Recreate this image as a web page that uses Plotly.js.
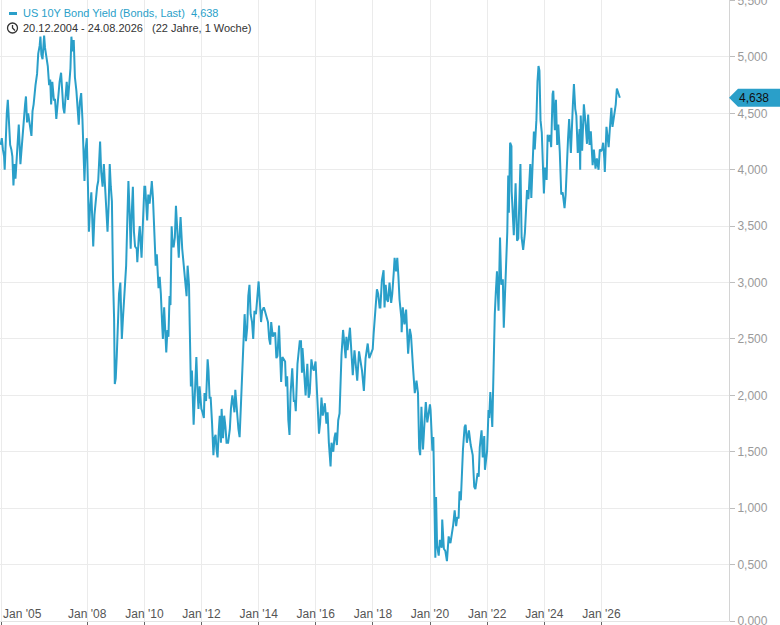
<!DOCTYPE html>
<html><head><meta charset="utf-8">
<script src="https://cdn.plot.ly/plotly-3.0.1.min.js"></script>
<style>html,body{margin:0;padding:0;background:#fff}#chart{width:780px;height:625px}</style>
</head><body><div id="chart"></div>
<script>
const seriesName = 'US 10Y Bond Yield (Bonds, Last)';
const periodText = '(22 Jahre, 1 Woche)';
const tickDates = ['2005-01-01','2008-01-01','2010-01-01','2012-01-01','2014-01-01','2016-01-01','2018-01-01','2020-01-01','2022-01-01','2024-01-01','2026-01-01'];
const tickLabels = ["Jan '05","Jan '08","Jan '10","Jan '12","Jan '14","Jan '16","Jan '18","Jan '20","Jan '22","Jan '24","Jan '26"];

const y2005 = [["2004-12-20",4.22],["2005-01-03",4.28],["2005-01-17",4.18],["2005-02-01",4.12],["2005-02-09",4.00],["2005-02-22",4.28],["2005-03-08",4.50],["2005-03-21",4.62],["2005-04-05",4.45],["2005-04-20",4.22],["2005-05-05",4.18],["2005-05-18",4.12],["2005-06-01",3.86],["2005-06-15",4.05],["2005-06-27",3.92],["2005-07-12",4.12],["2005-07-28",4.28],["2005-08-08",4.40],["2005-08-29",4.05],["2005-09-08",4.15],["2005-09-26",4.32],["2005-10-12",4.45],["2005-10-28",4.58],["2005-11-08",4.65],["2005-11-22",4.42],["2005-12-06",4.50],["2005-12-30",4.38]];
const y2006 = [["2006-01-17",4.30],["2006-01-31",4.52],["2006-02-14",4.58],["2006-03-10",4.75],["2006-03-30",4.85],["2006-04-14",5.03],["2006-05-02",5.10],["2006-05-12",5.18],["2006-05-24",5.02],["2006-06-08",4.98],["2006-06-28",5.19],["2006-07-10",5.08],["2006-07-27",5.00],["2006-08-14",4.92],["2006-08-31",4.75],["2006-09-14",4.80],["2006-09-26",4.58],["2006-10-11",4.78],["2006-10-31",4.62],["2006-11-15",4.62],["2006-12-01",4.45],["2006-12-14",4.58],["2006-12-29",4.70]];
const y2007 = [["2007-01-12",4.78],["2007-01-31",4.86],["2007-02-14",4.70],["2007-02-28",4.55],["2007-03-14",4.50],["2007-03-30",4.65],["2007-04-13",4.78],["2007-04-30",4.62],["2007-05-15",4.78],["2007-05-31",4.90],["2007-06-12",5.18],["2007-06-26",5.05],["2007-07-12",5.15],["2007-07-27",4.82],["2007-08-15",4.70],["2007-08-31",4.52],["2007-09-14",4.40],["2007-09-28",4.60],["2007-10-15",4.68],["2007-10-31",4.45],["2007-11-12",4.22],["2007-11-26",3.90],["2007-12-10",4.18],["2007-12-26",4.28]];
const y2008 = [["2008-01-10",3.85],["2008-01-22",3.45],["2008-02-05",3.65],["2008-02-22",3.80],["2008-03-07",3.52],["2008-03-17",3.32],["2008-04-02",3.60],["2008-04-17",3.75],["2008-05-06",3.85],["2008-05-20",3.90],["2008-06-13",4.25],["2008-06-27",3.98],["2008-07-15",3.85],["2008-07-31",4.05],["2008-08-15",3.85],["2008-09-02",3.72],["2008-09-16",3.45],["2008-10-01",3.70],["2008-10-14",4.05],["2008-10-28",3.85],["2008-11-11",3.72],["2008-11-25",3.05],["2008-12-09",2.68],["2008-12-18",2.10],["2008-12-30",2.15]];
const y2009 = [["2009-01-12",2.35],["2009-01-30",2.85],["2009-02-10",2.90],["2009-02-27",3.00],["2009-03-18",2.50],["2009-04-01",2.68],["2009-04-22",2.95],["2009-05-12",3.15],["2009-05-27",3.55],["2009-06-10",3.90],["2009-06-24",3.65],["2009-07-09",3.30],["2009-07-22",3.60],["2009-08-06",3.85],["2009-08-20",3.45],["2009-09-03",3.32],["2009-09-24",3.30],["2009-10-02",3.18],["2009-10-20",3.40],["2009-11-02",3.50],["2009-11-25",3.22],["2009-12-09",3.45],["2009-12-31",3.85]];
const y2010 = [["2010-01-11",3.85],["2010-01-27",3.62],["2010-02-05",3.55],["2010-02-19",3.78],["2010-03-08",3.70],["2010-03-31",3.85],["2010-04-05",3.90],["2010-04-20",3.75],["2010-05-07",3.45],["2010-05-25",3.15],["2010-06-08",3.25],["2010-06-30",2.95],["2010-07-15",3.05],["2010-07-30",2.90],["2010-08-16",2.62],["2010-08-25",2.50],["2010-09-10",2.78],["2010-09-30",2.52],["2010-10-07",2.38],["2010-10-22",2.58],["2010-11-04",2.52],["2010-11-18",2.88],["2010-11-30",2.80],["2010-12-15",3.50],["2010-12-29",3.32]];
const y2011 = [["2011-01-10",3.32],["2011-01-25",3.40],["2011-02-08",3.68],["2011-02-23",3.45],["2011-03-16",3.22],["2011-03-31",3.48],["2011-04-08",3.58],["2011-04-29",3.30],["2011-05-13",3.18],["2011-05-31",3.05],["2011-06-24",2.88],["2011-07-07",3.15],["2011-07-25",2.98],["2011-08-03",2.62],["2011-08-18",2.08],["2011-08-31",2.22],["2011-09-22",1.74],["2011-10-06",1.98],["2011-10-27",2.34],["2011-11-10",2.05],["2011-11-23",1.88],["2011-12-07",2.08],["2011-12-30",1.88]];
const y2012 = [["2012-01-13",1.85],["2012-01-31",1.80],["2012-02-08",2.02],["2012-02-28",1.95],["2012-03-19",2.32],["2012-03-30",2.22],["2012-04-13",1.98],["2012-04-27",1.98],["2012-05-15",1.75],["2012-06-01",1.47],["2012-06-15",1.62],["2012-06-29",1.65],["2012-07-11",1.52],["2012-07-24",1.45],["2012-08-08",1.68],["2012-08-21",1.82],["2012-09-05",1.58],["2012-09-14",1.88],["2012-10-02",1.62],["2012-10-17",1.82],["2012-11-02",1.72],["2012-11-16",1.58],["2012-12-06",1.58],["2012-12-28",1.70]];
const y2013 = [["2013-01-11",1.88],["2013-01-29",2.00],["2013-02-08",1.95],["2013-02-25",1.85],["2013-03-08",2.05],["2013-03-28",1.85],["2013-04-17",1.70],["2013-05-02",1.63],["2013-05-22",2.02],["2013-06-07",2.18],["2013-06-24",2.58],["2013-07-05",2.72],["2013-07-22",2.48],["2013-08-07",2.60],["2013-08-21",2.88],["2013-09-05",2.98],["2013-09-20",2.72],["2013-10-08",2.65],["2013-10-23",2.50],["2013-11-08",2.75],["2013-11-27",2.72],["2013-12-13",2.88],["2013-12-31",3.01]];
const y2014 = [["2014-01-14",2.85],["2014-01-31",2.65],["2014-02-14",2.75],["2014-03-07",2.78],["2014-03-21",2.75],["2014-04-04",2.72],["2014-04-30",2.65],["2014-05-15",2.50],["2014-05-29",2.45],["2014-06-10",2.65],["2014-06-30",2.52],["2014-07-15",2.55],["2014-07-31",2.55],["2014-08-15",2.33],["2014-08-29",2.35],["2014-09-18",2.62],["2014-10-02",2.42],["2014-10-15",2.12],["2014-10-31",2.34],["2014-11-14",2.32],["2014-12-05",2.30],["2014-12-16",2.08],["2014-12-31",2.17]];
const y2015 = [["2015-01-15",1.78],["2015-01-30",1.65],["2015-02-13",2.02],["2015-03-06",2.24],["2015-03-26",1.95],["2015-04-10",1.95],["2015-04-20",1.86],["2015-05-12",2.28],["2015-06-10",2.48],["2015-06-26",2.48],["2015-07-08",2.20],["2015-07-15",2.42],["2015-08-04",2.22],["2015-08-24",2.00],["2015-09-15",2.28],["2015-10-02",1.98],["2015-10-16",2.02],["2015-11-06",2.32],["2015-11-24",2.24],["2015-12-08",2.22],["2015-12-29",2.30]];
const y2016 = [["2016-01-13",2.08],["2016-01-29",1.92],["2016-02-11",1.66],["2016-02-26",1.76],["2016-03-14",1.98],["2016-03-30",1.82],["2016-04-26",1.93],["2016-05-16",1.75],["2016-05-31",1.85],["2016-06-16",1.58],["2016-06-27",1.45],["2016-07-08",1.37],["2016-07-20",1.58],["2016-08-12",1.50],["2016-08-26",1.62],["2016-09-09",1.67],["2016-09-27",1.56],["2016-10-14",1.78],["2016-10-31",1.84],["2016-11-09",2.07],["2016-11-25",2.36],["2016-12-15",2.58],["2016-12-30",2.45]];
const y2017 = [["2017-01-17",2.33],["2017-01-26",2.52],["2017-02-10",2.40],["2017-03-13",2.60],["2017-03-31",2.40],["2017-04-18",2.18],["2017-05-10",2.40],["2017-05-31",2.20],["2017-06-14",2.13],["2017-07-07",2.39],["2017-07-26",2.30],["2017-08-14",2.22],["2017-09-07",2.04],["2017-09-29",2.33],["2017-10-26",2.46],["2017-11-15",2.33],["2017-12-01",2.36],["2017-12-29",2.41]];
const y2018 = [["2018-01-10",2.55],["2018-01-29",2.72],["2018-02-09",2.85],["2018-02-21",2.94],["2018-03-09",2.90],["2018-03-27",2.78],["2018-04-06",2.78],["2018-04-25",3.02],["2018-05-17",3.11],["2018-05-29",2.78],["2018-06-13",2.98],["2018-06-29",2.85],["2018-07-13",2.83],["2018-08-01",3.00],["2018-08-22",2.82],["2018-09-05",2.90],["2018-09-25",3.10],["2018-10-05",3.22],["2018-10-24",3.10],["2018-11-08",3.22],["2018-11-23",3.05],["2018-12-07",2.85],["2018-12-31",2.68]];
const y2019 = [["2019-01-03",2.56],["2019-01-18",2.78],["2019-02-08",2.63],["2019-03-01",2.76],["2019-03-27",2.37],["2019-04-17",2.59],["2019-05-03",2.53],["2019-05-29",2.24],["2019-06-20",2.02],["2019-07-12",2.13],["2019-07-31",2.02],["2019-08-15",1.53],["2019-08-28",1.47],["2019-09-13",1.90],["2019-09-30",1.67],["2019-10-03",1.52],["2019-10-23",1.77],["2019-11-08",1.94],["2019-11-27",1.76],["2019-12-13",1.82],["2019-12-31",1.92]];
const y2020 = [["2020-01-08",1.87],["2020-01-31",1.51],["2020-02-12",1.63],["2020-02-28",1.13],["2020-03-09",0.56],["2020-03-18",1.10],["2020-03-31",0.67],["2020-04-21",0.58],["2020-05-06",0.72],["2020-05-29",0.65],["2020-06-05",0.90],["2020-06-26",0.64],["2020-07-15",0.62],["2020-08-04",0.53],["2020-08-26",0.75],["2020-09-18",0.69],["2020-10-09",0.78],["2020-10-23",0.85],["2020-11-11",0.98],["2020-11-30",0.84],["2020-12-15",0.92],["2020-12-31",0.91]];
const y2021 = [["2021-01-12",1.15],["2021-01-29",1.07],["2021-02-25",1.52],["2021-03-18",1.72],["2021-03-31",1.74],["2021-04-16",1.58],["2021-05-12",1.69],["2021-06-04",1.56],["2021-06-30",1.47],["2021-07-19",1.19],["2021-08-03",1.17],["2021-08-31",1.31],["2021-09-14",1.28],["2021-09-28",1.54],["2021-10-21",1.69],["2021-11-05",1.45],["2021-11-24",1.64],["2021-12-03",1.34],["2021-12-31",1.51]];
const y2022 = [["2022-01-18",1.87],["2022-01-27",1.80],["2022-02-10",2.03],["2022-03-07",1.72],["2022-03-21",2.32],["2022-04-08",2.72],["2022-04-21",2.91],["2022-05-06",3.10],["2022-05-26",2.75],["2022-06-14",3.40],["2022-06-30",2.98],["2022-07-20",3.03],["2022-08-01",2.60],["2022-08-22",3.03],["2022-09-15",3.45],["2022-09-27",3.95],["2022-10-05",3.62],["2022-10-21",4.24],["2022-11-07",4.21],["2022-11-10",3.81],["2022-12-07",3.42],["2022-12-30",3.88]];
const y2023 = [["2023-01-18",3.37],["2023-02-02",3.39],["2023-03-02",4.05],["2023-03-17",3.40],["2023-04-06",3.29],["2023-04-28",3.44],["2023-05-25",3.82],["2023-06-12",3.74],["2023-07-06",4.05],["2023-07-19",3.75],["2023-08-04",4.04],["2023-08-21",4.34],["2023-09-01",4.18],["2023-09-22",4.44],["2023-10-06",4.78],["2023-10-19",4.92],["2023-10-31",4.88],["2023-11-14",4.44],["2023-11-30",4.33],["2023-12-14",3.91],["2023-12-27",3.79]];
const y2024 = [["2024-01-10",4.02],["2024-01-31",3.91],["2024-02-13",4.31],["2024-02-29",4.25],["2024-03-15",4.31],["2024-03-29",4.20],["2024-04-16",4.67],["2024-04-25",4.70],["2024-05-15",4.35],["2024-05-29",4.62],["2024-06-14",4.22],["2024-06-28",4.40],["2024-07-17",4.16],["2024-08-05",3.78],["2024-08-23",3.80],["2024-09-16",3.66],["2024-09-30",3.78],["2024-10-14",4.10],["2024-10-31",4.28],["2024-11-14",4.45],["2024-12-06",4.15],["2024-12-31",4.57]];
const y2025 = [["2025-01-14",4.76],["2025-01-31",4.54],["2025-02-14",4.48],["2025-03-04",4.15],["2025-03-27",4.36],["2025-04-04",4.00],["2025-04-11",4.48],["2025-04-29",4.17],["2025-05-21",4.58],["2025-06-13",4.40],["2025-06-30",4.23],["2025-07-15",4.49],["2025-08-01",4.22],["2025-08-18",4.34],["2025-09-10",4.04],["2025-09-26",4.18],["2025-10-17",4.01],["2025-11-03",4.10],["2025-11-25",4.00],["2025-12-11",4.18],["2025-12-31",4.17]];
const y2026 = [["2026-01-09",4.18],["2026-01-23",4.24],["2026-02-06",4.10],["2026-02-13",3.98],["2026-03-06",4.38],["2026-03-20",4.25],["2026-04-03",4.20],["2026-04-17",4.35],["2026-05-08",4.55],["2026-05-22",4.38],["2026-06-05",4.45],["2026-06-19",4.50],["2026-07-03",4.58],["2026-07-17",4.72],["2026-08-07",4.66],["2026-08-24",4.638]];

const series = [].concat(y2005,y2006,y2007,y2008,y2009,y2010,y2011,y2012,y2013,y2014,y2015,y2016,y2017,y2018,y2019,y2020,y2021,y2022,y2023,y2024,y2025,y2026);
const xs = series.map(p => p[0]);
const ys = series.map(p => p[1]);
const lastVal = ys[ys.length - 1];
const fmt = v => v.toFixed(3).replace('.', ',');
const fmtDate = d => { const [Y,M,D] = d.split('-'); return D + '.' + M + '.' + Y; };

const lineColor = '#2a9fc9';
const font = 'Liberation Sans, Arial, Helvetica, sans-serif';
const NB = '\u00a0';
// first label sits at the very left edge; it is drawn left-aligned as an annotation
const labels = tickLabels.map((t, i) => i === 0 ? '' : t);

const trace = {
  type: 'scatter', mode: 'lines', x: xs, y: ys,
  line: {color: lineColor, width: 2}, hoverinfo: 'skip', name: seriesName
};

const layout = {
  width: 780, height: 625,
  margin: {l: 0, r: 51, t: 0, b: 4, pad: 0},
  paper_bgcolor: '#ffffff', plot_bgcolor: '#ffffff',
  separators: ',.',
  font: {family: font, size: 12, color: '#555'},
  showlegend: false,
  xaxis: {
    type: 'date', range: ['2004-12-11', '2030-06-20'],
    tickmode: 'array', tickvals: tickDates, ticktext: labels,
    ticklabelposition: 'inside', ticklabeloverflow: 'allow',
    ticks: 'outside', ticklen: 4, tickcolor: '#666', tickwidth: 1,
    showgrid: true, gridcolor: '#ebebeb', gridwidth: 1,
    showline: true, linecolor: '#e4e4e4', zeroline: false,
    tickfont: {family: font, size: 12, color: '#555'}, fixedrange: true
  },
  yaxis: {
    side: 'right', range: [0, 5.505], tickmode: 'linear', tick0: 0, dtick: 0.5,
    tickformat: '.3f', ticks: 'outside', ticklen: 5, tickcolor: '#bdbdbd',
    ticklabeloverflow: 'allow',
    showline: true, linecolor: '#d4d4d4', gridcolor: '#ebebeb', gridwidth: 1,
    zeroline: false, tickfont: {family: font, size: 12, color: '#9a9a9a'}, fixedrange: true
  },
  shapes: [
    {type: 'path', xref: 'paper', yref: 'y', xsizemode: 'pixel', ysizemode: 'pixel',
     xanchor: 1, yanchor: lastVal, path: 'M0,0 L9,9 L51,9 L51,-9 L9,-9 Z',
     fillcolor: lineColor, line: {width: 0}},
    {type: 'rect', xref: 'paper', yref: 'paper', xsizemode: 'pixel', ysizemode: 'pixel',
     xanchor: 0, yanchor: 1, x0: 9, x1: 17, y0: -12, y1: -15,
     fillcolor: lineColor, line: {width: 0}},
    {type: 'circle', xref: 'paper', yref: 'paper', xsizemode: 'pixel', ysizemode: 'pixel',
     xanchor: 0, yanchor: 1, x0: 7.5, x1: 17.5, y0: -23, y1: -33,
     line: {color: '#333', width: 1.3}},
    {type: 'path', xref: 'paper', yref: 'paper', xsizemode: 'pixel', ysizemode: 'pixel',
     xanchor: 0, yanchor: 1, path: 'M12.5,-25 L12.5,-28 L15,-30.5',
     line: {color: '#333', width: 1.3}}
  ],
  annotations: [
    {xref: 'paper', yref: 'paper', x: 0, y: 1, xanchor: 'left', yanchor: 'middle',
     xshift: 21, yshift: -13, showarrow: false,
     text: seriesName + NB + NB + fmt(lastVal),
     font: {family: font, size: 11, color: lineColor}},
    {xref: 'paper', yref: 'paper', x: 0, y: 1, xanchor: 'left', yanchor: 'middle',
     xshift: 21, yshift: -28, showarrow: false,
     text: fmtDate(xs[0]) + ' - ' + fmtDate(xs[xs.length - 1]) + NB + NB + NB + periodText,
     font: {family: font, size: 11, color: '#333'}},
    {xref: 'x', yref: 'paper', x: tickDates[0], y: 0, xanchor: 'left', yanchor: 'bottom',
     xshift: -1, yshift: -2, showarrow: false, text: tickLabels[0],
     font: {family: font, size: 12, color: '#555'}},
    {xref: 'paper', yref: 'y', x: 1, y: lastVal, xanchor: 'left', yanchor: 'middle',
     xshift: 8, showarrow: false, text: fmt(lastVal),
     font: {family: font, size: 12, color: '#111'}}
  ]
};

Plotly.newPlot('chart', [trace], layout, {staticPlot: true, displayModeBar: false});
</script>
</body></html>
